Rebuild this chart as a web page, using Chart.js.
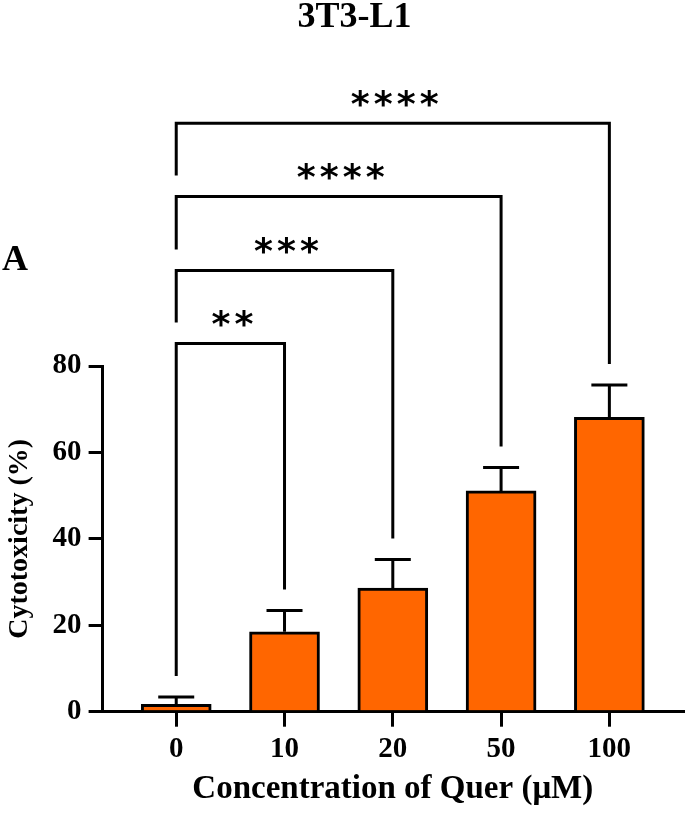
<!DOCTYPE html>
<html>
<head>
<meta charset="utf-8">
<script src="https://cdn.jsdelivr.net/npm/chart.js@4.4.0/dist/chart.umd.min.js"></script>
<style>
  html, body { margin: 0; padding: 0; background: #fff; }
  #wrap { width: 685px; height: 813px; }
</style>
</head>
<body>
<div id="wrap"><canvas id="chart" width="685" height="813"></canvas></div>
<script>
// values
const categories = ['0', '10', '20', '50', '100'];
const means = [1.7, 18.5, 28.6, 51.1, 68.1];
const errors = [1.7, 4.9, 6.6, 5.4, 7.5];
const yTicks = [0, 20, 40, 60, 80];

// significance brackets: pair of bars, label, height in axis units
const comparisons = [[0, 1], [0, 2], [0, 3], [0, 4]];
const sigLabels = ['**', '***', '****', '****'];
const bracketLevels = [85.2, 102.1, 119.2, 136.2];

const serif = 'Liberation Serif';

// upper error bars only, like the prism plot
const errorBars = {
  id: 'errorBars',
  afterDatasetsDraw(chart) {
    const {ctx, scales: {x, y}} = chart;
    ctx.save();
    ctx.strokeStyle = '#000';
    ctx.lineWidth = 3;
    ctx.lineCap = 'butt';
    means.forEach((m, i) => {
      const px = x.getPixelForValue(i);
      const top = y.getPixelForValue(m + errors[i]);
      ctx.beginPath();
      ctx.moveTo(px, y.getPixelForValue(m));
      ctx.lineTo(px, top);
      ctx.moveTo(px - 18, top);
      ctx.lineTo(px + 18, top);
      ctx.stroke();
    });
    ctx.restore();
  }
};

const brackets = {
  id: 'brackets',
  afterDraw(chart) {
    const {ctx, scales: {x, y}} = chart;
    const gap = 21;
    ctx.save();
    ctx.strokeStyle = '#000';
    ctx.fillStyle = '#000';
    ctx.lineWidth = 3;
    ctx.lineJoin = 'miter';

    // size the asterisks so the glyph is ~17px tall
    const starFont = '"DejaVu Sans"';
    ctx.font = 'bold 100px ' + starFont;
    const m100 = ctx.measureText('*');
    const h100 = m100.actualBoundingBoxAscent + m100.actualBoundingBoxDescent;
    const size = 17 / h100 * 100;
    ctx.font = 'bold ' + size.toFixed(1) + 'px ' + starFont;
    const ms = ctx.measureText('*');
    const midOff = (ms.actualBoundingBoxAscent - ms.actualBoundingBoxDescent) / 2;
    const pitch = 23;

    comparisons.forEach(([a, b], k) => {
      const xa = x.getPixelForValue(a);
      const xb = x.getPixelForValue(b);
      const yl = y.getPixelForValue(bracketLevels[k]);
      const leftEnd = k === 0
        ? y.getPixelForValue(means[a] + errors[a]) - gap
        : y.getPixelForValue(bracketLevels[k - 1]) - gap;
      const rightEnd = y.getPixelForValue(means[b] + errors[b]) - gap;
      ctx.beginPath();
      ctx.moveTo(xa, leftEnd);
      ctx.lineTo(xa, yl);
      ctx.lineTo(xb, yl);
      ctx.lineTo(xb, rightEnd);
      ctx.stroke();

      const label = sigLabels[k];
      const cx = (xa + xb) / 2 + 2;
      const cy = yl - 25;
      ctx.textAlign = 'center';
      ctx.textBaseline = 'alphabetic';
      for (let j = 0; j < label.length; j++) {
        const sx = cx + (j - (label.length - 1) / 2) * pitch;
        ctx.fillText(label[j], sx, cy + midOff);
      }
    });

    // title and panel letter
    ctx.font = 'bold 36px "' + serif + '"';
    ctx.textAlign = 'center';
    ctx.fillText('3T3-L1', 354.5, 27);
    ctx.textAlign = 'left';
    ctx.fillText('A', 2, 270);
    ctx.restore();
  }
};

const axisFont = {family: serif, size: 29, weight: 'bold'};

new Chart(document.getElementById('chart'), {
  type: 'bar',
  data: {
    datasets: [{
      data: categories.map((c, i) => ({x: i, y: means[i]})),
      backgroundColor: '#FF6600',
      borderColor: '#000',
      borderWidth: 3,
      barThickness: 70
    }]
  },
  options: {
    responsive: false,
    animation: false,
    layout: {padding: {top: 366, left: 3, right: 2, bottom: 1}},
    plugins: {
      legend: {display: false},
      tooltip: {enabled: false},
      title: {display: false}
    },
    scales: {
      x: {
        type: 'linear',
        offset: false,
        min: -0.68,
        max: 4.68,
        afterBuildTicks: (scale) => { scale.ticks = categories.map((c, i) => ({value: i})); },
        ticks: {
          color: '#000',
          font: axisFont,
          padding: 5,
          maxRotation: 0,
          callback: (v) => categories[v]
        },
        grid: {display: true, offset: false, drawOnChartArea: false, drawTicks: true, tickLength: 15, color: '#000', lineWidth: 3},
        border: {display: true, color: '#000', width: 3},
        title: {
          display: true,
          text: 'Concentration of Quer (μM)',
          color: '#000',
          font: {family: serif, size: 33, weight: 'bold', lineHeight: 1.0},
          padding: {top: 1, bottom: 6.5}
        }
      },
      y: {
        min: 0,
        max: 80,
        afterBuildTicks: (scale) => { scale.ticks = yTicks.map(v => ({value: v})); },
        ticks: {color: '#000', font: axisFont, padding: 7},
        grid: {display: true, drawOnChartArea: false, drawTicks: true, tickLength: 14, color: '#000', lineWidth: 3},
        border: {display: true, color: '#000', width: 3},
        title: {
          display: true,
          text: 'Cytotoxicity (%)',
          color: '#000',
          font: {family: serif, size: 28, weight: 'bold'},
          padding: {top: 0, bottom: 9}
        }
      }
    }
  },
  plugins: [errorBars, brackets]
});
</script>
</body>
</html>
